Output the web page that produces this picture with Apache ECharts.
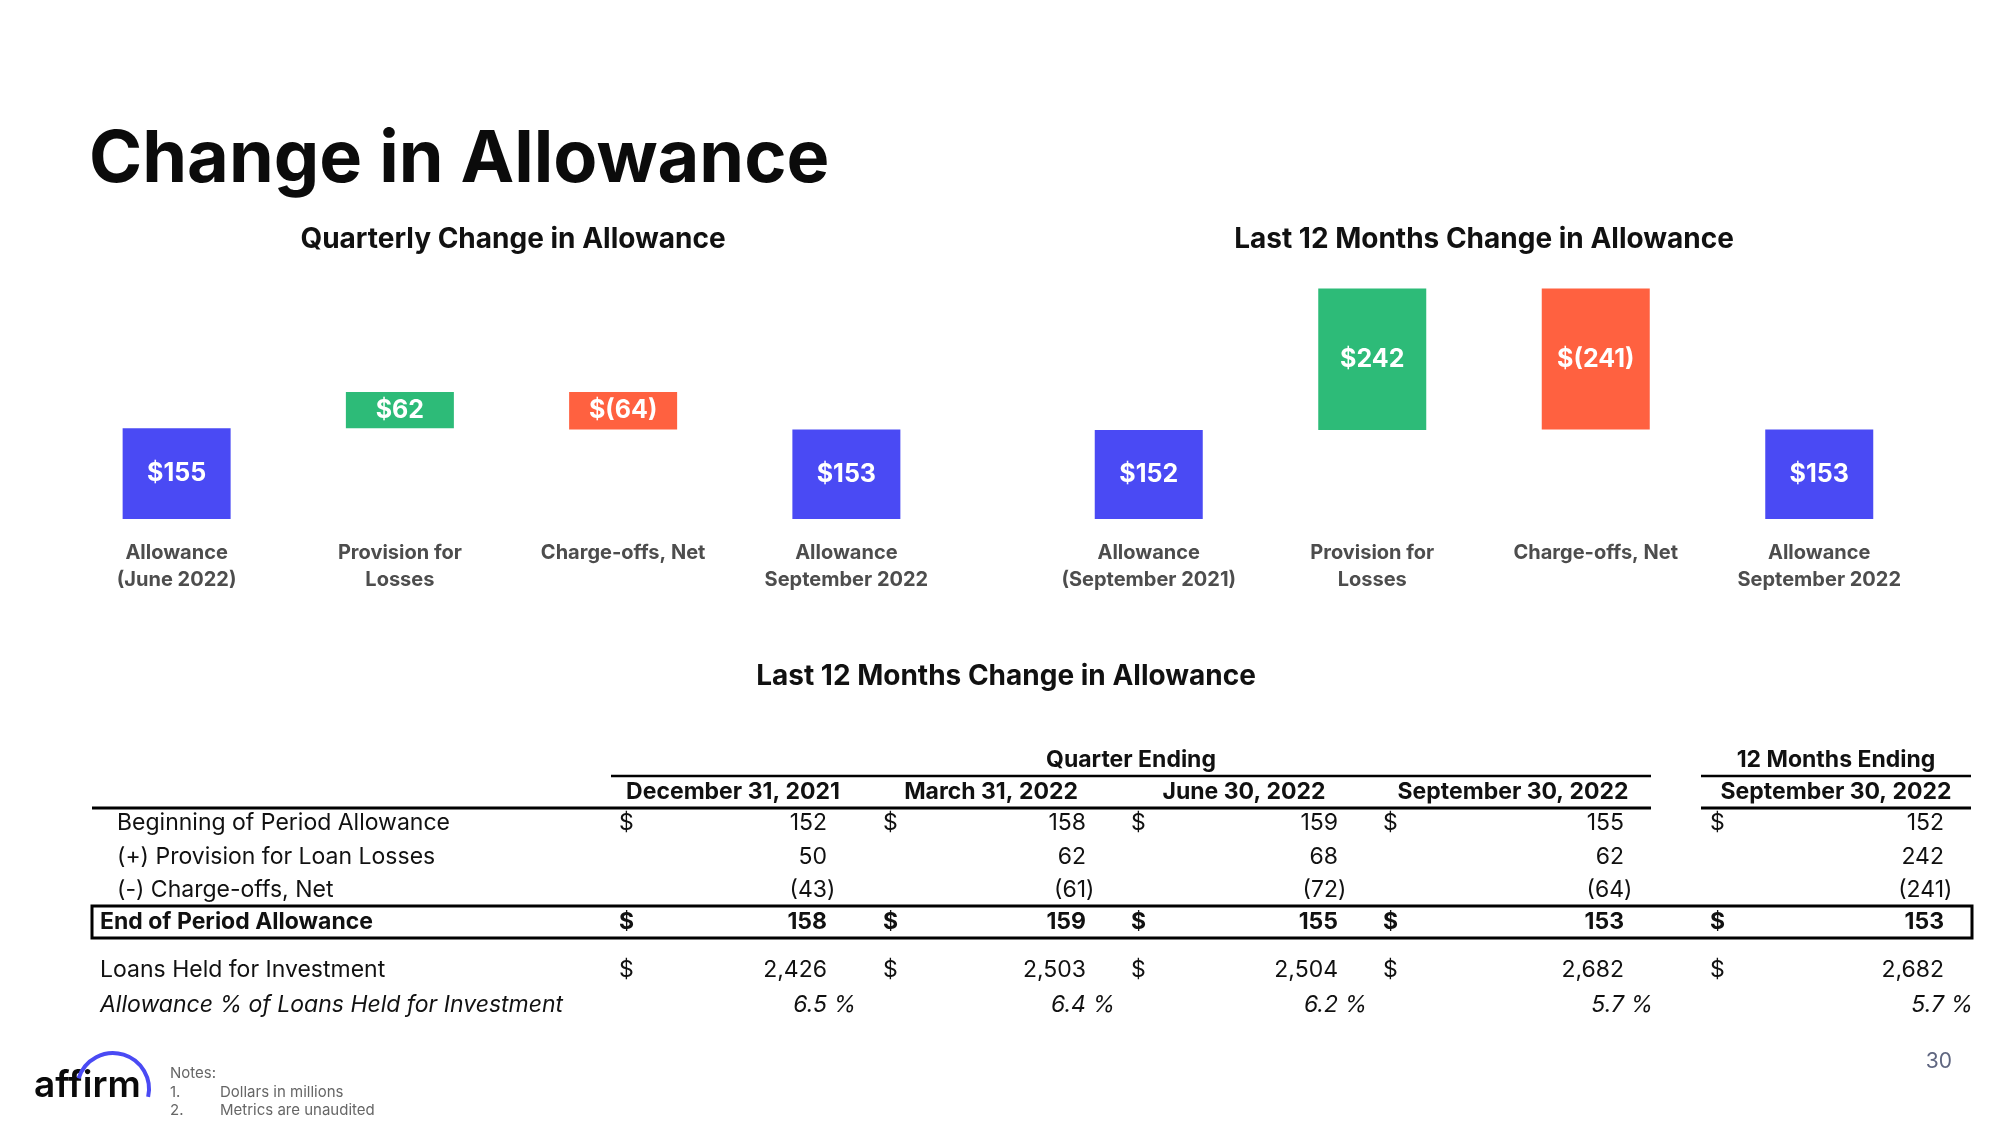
<!DOCTYPE html>
<html>
<head>
<meta charset="utf-8">
<title>Change in Allowance</title>
<script src="https://cdn.jsdelivr.net/npm/echarts@6/dist/echarts.min.js"></script>
<style>
  html, body { margin: 0; padding: 0; background: #fff; }
  #chart { width: 2000px; height: 1125px; }
</style>
</head>
<body>
<div id="chart"></div>
<script>
// waterfall steps (dollars in millions)
const quarterlySteps = ["Allowance\n(June 2022)", "Provision for\nLosses", "Charge-offs, Net", "Allowance\nSeptember 2022"];
const quarterlyValues = [155, 62, -64, 153];
const ltmSteps = ["Allowance\n(September 2021)", "Provision for\nLosses", "Charge-offs, Net", "Allowance\nSeptember 2022"];
const ltmValues = [152, 242, -241, 153];

// table
const periodHeaders = ["December 31, 2021", "March 31, 2022", "June 30, 2022", "September 30, 2022", "September 30, 2022"];
const rowLabels = [
  "Beginning of Period Allowance",
  "(+) Provision for Loan Losses",
  "(-) Charge-offs, Net",
  "End of Period Allowance",
  "Loans Held for Investment",
  "Allowance % of Loans Held for Investment",
];
const beginningAllowance = [152, 158, 159, 155, 152];
const provisionLosses = [50, 62, 68, 62, 242];
const chargeOffsNet = [-43, -61, -72, -64, -241];
const endAllowance = [158, 159, 155, 153, 153];
const loansHeld = [2426, 2503, 2504, 2682, 2682];
const allowancePct = [6.5, 6.4, 6.2, 5.7, 5.7];

const FONT = "Inter, Lato, sans-serif";
const BLUE = "#4a4af4";
const GREEN = "#2dbb78";
const RED = "#ff6140";

function waterfall(values) {
  const base = [];
  const size = [];
  const colors = [];
  let running = 0;
  values.forEach((v, i) => {
    const last = i === values.length - 1;
    if (i === 0 || last) {
      base.push(0);
      size.push(v);
      colors.push(BLUE);
      running = v;
    } else if (v >= 0) {
      base.push(running);
      size.push(v);
      colors.push(GREEN);
      running += v;
    } else {
      running += v;
      base.push(running);
      size.push(-v);
      colors.push(RED);
    }
  });
  return { base, size, colors };
}

function money(v) {
  return v < 0 ? `$(${-v})` : `$${v}`;
}

function waterfallSeries(values, axisIndex) {
  const w = waterfall(values);
  return [
    {
      type: "bar",
      stack: "wf" + axisIndex,
      xAxisIndex: axisIndex,
      yAxisIndex: axisIndex,
      barWidth: 108,
      silent: true,
      itemStyle: { color: "transparent" },
      data: w.base,
    },
    {
      type: "bar",
      stack: "wf" + axisIndex,
      xAxisIndex: axisIndex,
      yAxisIndex: axisIndex,
      barWidth: 108,
      data: w.size.map((s, i) => ({ value: s, itemStyle: { color: w.colors[i] } })),
      label: {
        show: true,
        position: "inside",
        color: "#fff",
        fontFamily: FONT,
        fontWeight: "bold",
        fontSize: 25,
        formatter: (p) => money(values[p.dataIndex]),
      },
    },
  ];
}

function categoryAxis(steps, gridIndex) {
  return {
    type: "category",
    gridIndex,
    data: steps,
    axisLine: { show: false },
    axisTick: { show: false },
    axisLabel: {
      margin: 20,
      color: "#4d4d4d",
      fontFamily: FONT,
      fontWeight: "bold",
      fontSize: 20,
      lineHeight: 27,
      interval: 0,
    },
  };
}

function valueAxis(gridIndex) {
  return { type: "value", gridIndex, min: 0, max: 400, show: false, splitLine: { show: false } };
}

function text(x, y, str, o = {}) {
  return {
    type: "text",
    x,
    y,
    silent: true,
    style: {
      text: str,
      fill: o.color || "#111",
      fontFamily: FONT,
      fontSize: o.size || 23,
      fontWeight: o.weight || "normal",
      fontStyle: o.style || "normal",
      align: o.align || "left",
      verticalAlign: "middle",
    },
  };
}

function rule(x1, x2, y, width) {
  return { type: "line", silent: true, shape: { x1, y1: y, x2, y2: y }, style: { stroke: "#000", lineWidth: width } };
}

// table layout
const colDollar = [619, 883, 1131, 1383, 1710];
const colRight = [827, 1086, 1338, 1624, 1944];
const colCenter = [733, 991, 1244, 1513, 1836];

const tableRows = [
  { values: beginningAllowance, y: 823, x: 117, dollar: true },
  { values: provisionLosses, y: 857, x: 117 },
  { values: chargeOffsNet, y: 890, x: 117 },
  { values: endAllowance, y: 922, x: 100, dollar: true, weight: "bold" },
  { values: loansHeld, y: 970, x: 100, dollar: true },
  { values: allowancePct, y: 1005, x: 100, style: "italic", pct: true },
];

const graphics = [];
graphics.push(text(89, 160, "Change in Allowance", { size: 72, weight: "bold", color: "#0b0b0b" }));
graphics.push(text(513, 240, "Quarterly Change in Allowance", { size: 28, weight: "bold", align: "center" }));
graphics.push(text(1484, 240, "Last 12 Months Change in Allowance", { size: 28, weight: "bold", align: "center" }));
graphics.push(text(1006, 677, "Last 12 Months Change in Allowance", { size: 28, weight: "bold", align: "center" }));

graphics.push(text(1131, 760, "Quarter Ending", { weight: "bold", align: "center" }));
graphics.push(text(1836, 760, "12 Months Ending", { weight: "bold", align: "center" }));
graphics.push(rule(611, 1651, 776, 2.5));
graphics.push(rule(1701, 1971, 776, 2.5));
periodHeaders.forEach((h, i) => graphics.push(text(colCenter[i], 792, h, { weight: "bold", align: "center" })));
graphics.push(rule(92, 1651, 808, 3));
graphics.push(rule(1701, 1971, 808, 3));
graphics.push({
  type: "rect",
  silent: true,
  shape: { x: 92, y: 906, width: 1880, height: 32 },
  style: { fill: "none", stroke: "#000", lineWidth: 3 },
});

tableRows.forEach((row, r) => {
  const o = { weight: row.weight, style: row.style };
  graphics.push(text(row.x, row.y, rowLabels[r], o));
  row.values.forEach((v, i) => {
    if (row.dollar) graphics.push(text(colDollar[i], row.y, "$", o));
    if (row.pct) {
      graphics.push(text(colRight[i], row.y, v.toFixed(1), { ...o, align: "right" }));
      graphics.push(text(colRight[i], row.y, " %", o));
    } else if (v < 0) {
      graphics.push(text(colRight[i], row.y, "(" + (-v).toLocaleString("en-US"), { ...o, align: "right" }));
      graphics.push(text(colRight[i], row.y, ")", o));
    } else {
      graphics.push(text(colRight[i], row.y, v.toLocaleString("en-US"), { ...o, align: "right" }));
    }
  });
});

// footer: logo, notes, page number
graphics.push(text(34, 1086, "affirm", { size: 37, weight: 600, color: "#0a0a0a" }));
graphics.push({
  type: "arc",
  silent: true,
  shape: { cx: 113, cy: 1089, r: 36, startAngle: Math.PI + 0.3, endAngle: 0.22, clockwise: true },
  style: { stroke: BLUE, lineWidth: 4, fill: "none" },
});
graphics.push(text(170, 1073, "Notes:", { size: 15, color: "#666" }));
graphics.push(text(170, 1092, "1.", { size: 15, color: "#666" }));
graphics.push(text(220, 1092, "Dollars in millions", { size: 15, color: "#666" }));
graphics.push(text(170, 1110, "2.", { size: 15, color: "#666" }));
graphics.push(text(220, 1110, "Metrics are unaudited", { size: 15, color: "#666" }));
graphics.push(text(1952, 1062, "30", { size: 21, color: "#5f6680", align: "right" }));

const chart = echarts.init(document.getElementById("chart"));
chart.setOption({
  backgroundColor: "#fff",
  animation: false,
  grid: [
    { left: 65, top: 285, width: 893, height: 234 },
    { left: 1037, top: 285, width: 894, height: 234 },
  ],
  xAxis: [categoryAxis(quarterlySteps, 0), categoryAxis(ltmSteps, 1)],
  yAxis: [valueAxis(0), valueAxis(1)],
  series: [...waterfallSeries(quarterlyValues, 0), ...waterfallSeries(ltmValues, 1)],
  graphic: graphics,
});
</script>
</body>
</html>
